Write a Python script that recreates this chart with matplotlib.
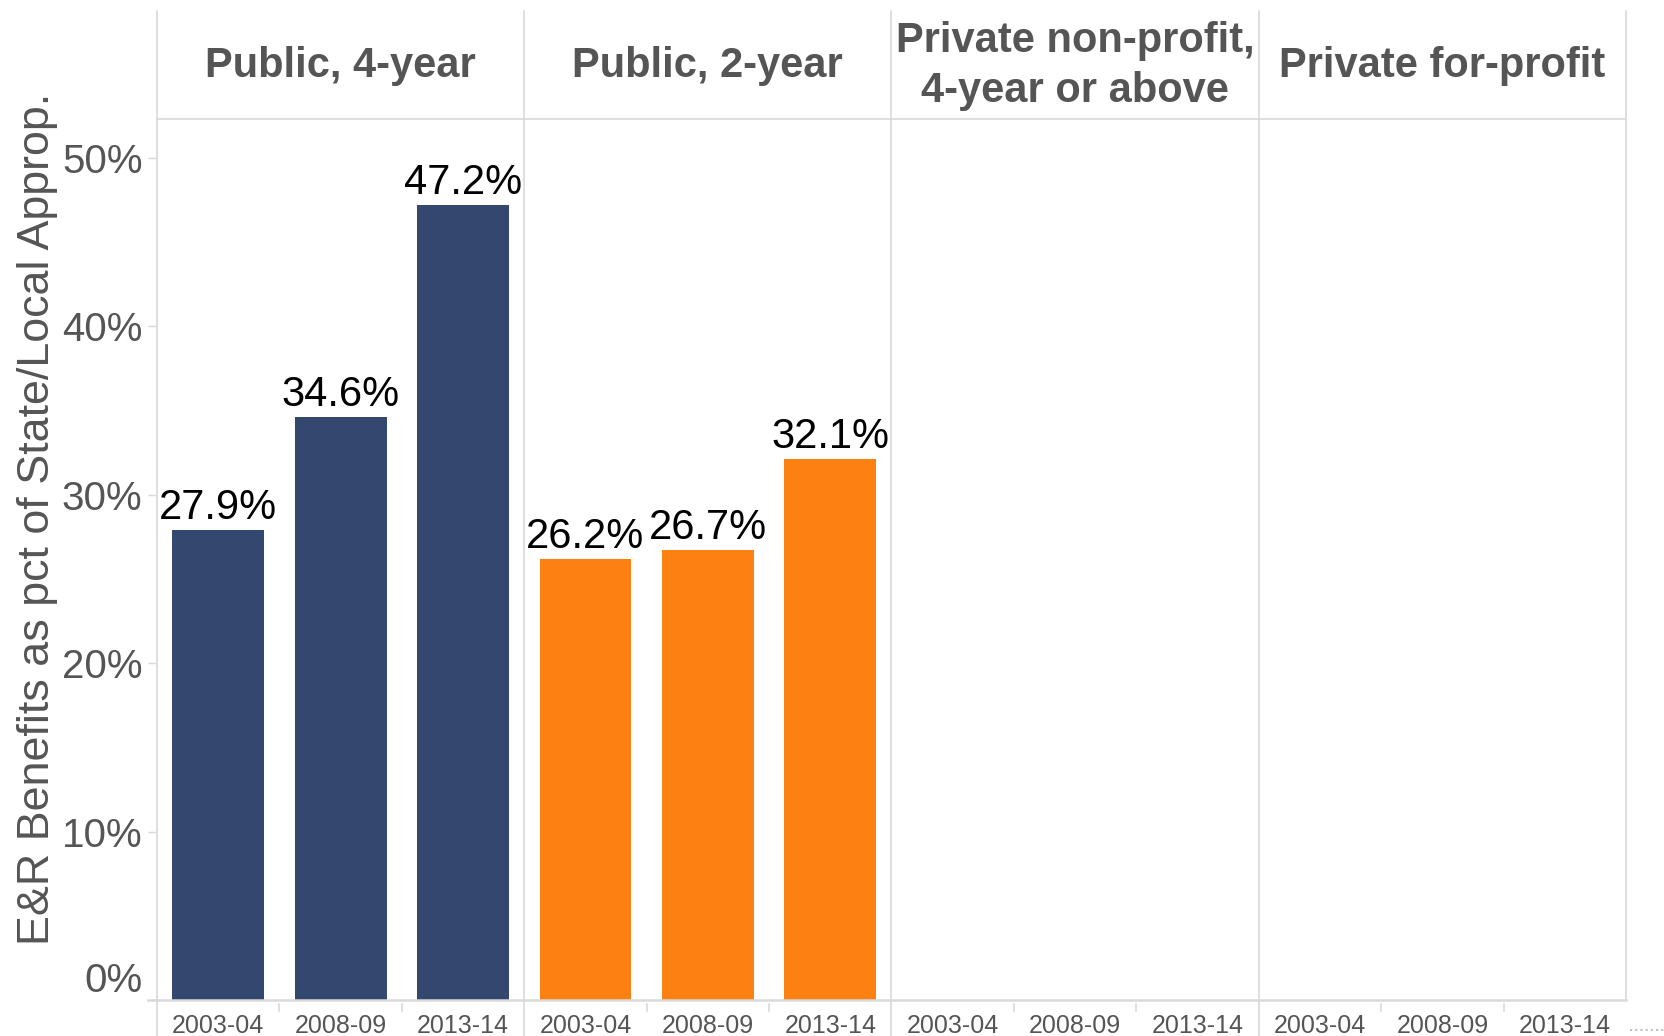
import matplotlib
matplotlib.use("Agg")
import matplotlib.pyplot as plt
from matplotlib.lines import Line2D
from matplotlib.transforms import blended_transform_factory

plt.rcParams["font.family"] = ["Liberation Sans", "DejaVu Sans"]

panels = ["Public, 4-year", "Public, 2-year",
          "Private non-profit,\n4-year or above", "Private for-profit"]
years = ["2003-04", "2008-09", "2013-14"]
public4 = [27.9, 34.6, 47.2]
public2 = [26.2, 26.7, 32.1]
colors = ["#33476f", "#fd8112"]

W, H = 1665, 1036
fig = plt.figure(figsize=(W / 100, H / 100), dpi=100)
ax = fig.add_axes([157 / W, 1 - 1000 / H, (1626 - 157) / W, (1000 - 119) / H])

grid = "#d9d9d9"
txt = "#555555"

series = [public4, public2]
for p, vals in enumerate(series):
    xs = [p * 3 + i for i in range(len(vals))]
    ax.bar(xs, vals, width=0.75, color=colors[p], zorder=2)
    for x, v in zip(xs, vals):
        ax.annotate(f"{v}%", (x, v), xytext=(0, 1.5), textcoords="offset points",
                    ha="center", va="bottom", fontsize=30, color="black")

ax.set_xlim(-0.5, 11.5)
ax.set_ylim(0, 52.3)
ax.set_yticks([0, 10, 20, 30, 40, 50])
ax.set_yticklabels([f"{t}%" for t in [0, 10, 20, 30, 40, 50]])
ax.tick_params(axis="y", length=6.5, width=1, color=grid, labelcolor=txt,
               labelsize=29, pad=4)
ax.get_yticklabels()[0].set_verticalalignment("bottom")
ax.set_xticks(range(12))
ax.set_xticklabels(years * 4)
ax.tick_params(axis="x", length=0, labelcolor=txt, labelsize=18, pad=10)
for s in ax.spines.values():
    s.set_visible(False)

tr = blended_transform_factory(ax.transData, fig.transFigure)
top = 1 - 11 / H
hline = 1 - 119 / H
zero = 1 - 1000 / H

# panel borders
for xb in [-0.5, 2.5, 5.5, 8.5]:
    fig.add_artist(Line2D([xb, xb], [0, top], transform=tr, color=grid, lw=1.2))
fig.add_artist(Line2D([11.5, 11.5], [zero, top], transform=tr, color=grid, lw=1.2))
fig.add_artist(Line2D([-0.5, 11.5], [hline, hline], transform=tr, color=grid, lw=1.2))
fig.add_artist(Line2D([148 / W, 1626 / W], [zero, zero], transform=fig.transFigure,
                      color=grid, lw=1.8))
# small ticks between years
for xb in [0.5, 1.5, 3.5, 4.5, 6.5, 7.5, 9.5, 10.5]:
    fig.add_artist(Line2D([xb, xb], [1 - 1004 / H, 1 - 1011 / H], transform=tr,
                          color=grid, lw=1.2))
fig.add_artist(Line2D([1630 / W, 1665 / W], [1 - 1030 / H, 1 - 1030 / H],
                      transform=fig.transFigure, color="#c0c0c0", lw=1.5,
                      linestyle=(0, (1, 1.5))))

# headers
for p, name in enumerate(panels):
    fig.text(p * 3 + 1, 1 - 66 / H, name, transform=tr, ha="center",
             va="center", fontsize=30, fontweight="bold", color=txt,
             linespacing=1.33)

fig.text(38 / W, 1 - 519 / H, "E&R Benefits as pct of State/Local Approp.",
         rotation=90, ha="center", va="center", fontsize=32.3, color=txt)

fig.savefig("out.png", dpi=100)
